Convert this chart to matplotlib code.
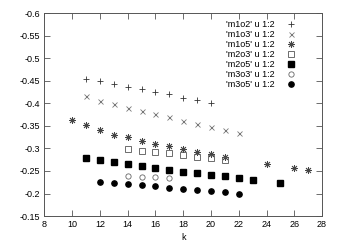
import matplotlib
matplotlib.use('Agg')
import matplotlib.pyplot as plt

plt.rcParams['font.family'] = ['Liberation Sans', 'DejaVu Sans']

# data
k_m1o2 = [11, 12, 13, 14, 15, 16, 17, 18, 19, 20]
m1o2 = [-0.455, -0.449, -0.443, -0.436, -0.431, -0.426, -0.421, -0.413, -0.407, -0.401]

k_m1o3 = [11, 12, 13, 14, 15, 16, 17, 18, 19, 20, 21, 22]
m1o3 = [-0.416, -0.406, -0.398, -0.390, -0.384, -0.377, -0.370, -0.362, -0.355, -0.348, -0.341, -0.335]

k_m1o5 = [10, 11, 12, 13, 14, 15, 16, 17, 18, 19, 20, 21, 24, 26, 27]
m1o5 = [-0.363, -0.352, -0.341, -0.331, -0.325, -0.317, -0.311, -0.305, -0.299, -0.292, -0.287, -0.281,
        -0.265, -0.256, -0.252]

k_m2o3 = [14, 15, 16, 17, 18, 19, 20, 21]
m2o3 = [-0.298, -0.295, -0.292, -0.289, -0.285, -0.281, -0.278, -0.275]

k_m2o5 = [11, 12, 13, 14, 15, 16, 17, 18, 19, 20, 21, 22, 23, 25]
m2o5 = [-0.279, -0.275, -0.269, -0.265, -0.262, -0.257, -0.252, -0.248, -0.245, -0.241, -0.238,
        -0.234, -0.230, -0.224]

k_m3o3 = [14, 15, 16, 17]
m3o3 = [-0.239, -0.237, -0.236, -0.234]

k_m3o5 = [12, 13, 14, 15, 16, 17, 18, 19, 20, 21, 22]
m3o5 = [-0.226, -0.223, -0.221, -0.219, -0.216, -0.213, -0.210, -0.208, -0.206, -0.204, -0.200]

x_ticks = [8, 10, 12, 14, 16, 18, 20, 22, 24, 26, 28]
y_ticks = [-0.6, -0.55, -0.5, -0.45, -0.4, -0.35, -0.3, -0.25, -0.2, -0.15]

fig = plt.figure(figsize=(3.39, 2.43), dpi=100)
ax = fig.add_axes([0.1307, 0.111, 0.8193, 0.834])

ax.plot(k_m1o2, m1o2, ls='none', marker='+', ms=5, mew=0.6, color='#333333', label="'m1o2' u 1:2")
ax.plot(k_m1o3, m1o3, ls='none', marker='x', ms=3.6, mew=0.6, color='#777777', label="'m1o3' u 1:2")
ax.plot(k_m1o5, m1o5, ls='none', marker=(8, 2, 0), ms=5, mew=0.6, color='#444444', label="'m1o5' u 1:2")
ax.plot(k_m2o3, m2o3, ls='none', marker='s', ms=4, mew=0.6, mfc='none', color='#555555', label="'m2o3' u 1:2")
ax.plot(k_m2o5, m2o5, ls='none', marker='s', ms=4.3, color='black', label="'m2o5' u 1:2")
ax.plot(k_m3o3, m3o3, ls='none', marker='o', ms=3.8, mew=0.6, mfc='none', color='#666666', label="'m3o3' u 1:2")
ax.plot(k_m3o5, m3o5, ls='none', marker='o', ms=3.8, color='black', label="'m3o5' u 1:2")

ax.set_xlim(8, 28)
ax.set_ylim(-0.15, -0.6)
ax.set_xticks(x_ticks)
ax.set_xticklabels(['%g' % t for t in x_ticks])
ax.set_yticks(y_ticks)
ax.set_yticklabels(['%g' % t for t in y_ticks])
ax.tick_params(direction='in', length=4, width=0.6, labelsize=6.5, top=True, right=True,
               color='#555555', pad=3)
for s in ax.spines.values():
    s.set_linewidth(0.7)
    s.set_color('#555555')
ax.set_xlabel('k', fontsize=6.5, labelpad=3)

ax.legend(loc='upper right', frameon=False, fontsize=6.5, markerfirst=False, labelspacing=0.12,
          handlelength=1.2, handletextpad=1.2, borderaxespad=0.3, bbox_to_anchor=(0.93, 1.0))

plt.savefig('out.png', dpi=100)
plt.close()
